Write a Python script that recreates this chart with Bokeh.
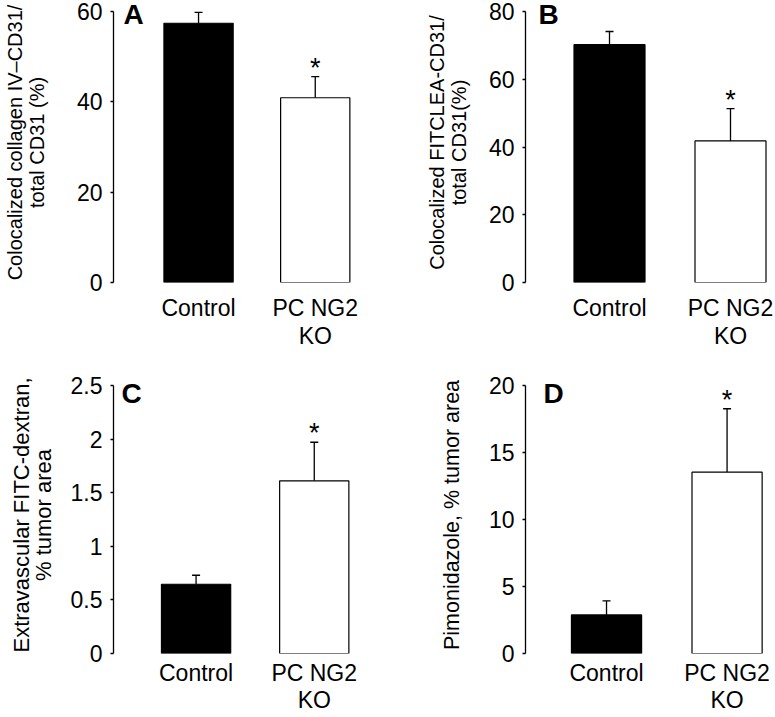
from bokeh.plotting import figure
from bokeh.models import Range1d, FixedTicker, Whisker, TeeHead, ColumnDataSource, Label, NumeralTickFormatter
from bokeh.layouts import gridplot
from bokeh.embed import file_html
from bokeh.resources import INLINE
from bokeh.core.properties import value

# ---------------- data ----------------
categories = ["Control", "PC NG2\nKO"]
bar_colors = ["black", "white"]
significant = [False, True]

a_means = [57.4, 40.9]
a_errs = [2.4, 4.7]
a_ticks = [0, 20, 40, 60]

b_means = [70.2, 41.8]
b_errs = [3.9, 9.5]
b_ticks = [0, 20, 40, 60, 80]

c_means = [0.646, 1.61]
c_errs = [0.084, 0.36]
c_ticks = [0, 0.5, 1, 1.5, 2, 2.5]

d_means = [2.88, 13.53]
d_errs = [1.05, 4.73]
d_ticks = [0, 5, 10, 15, 20]

FONT = "Liberation Sans"


def panel(letter, means, errs, ticks, ylabel, ylabel_size, ylabel_lh, ylabel_standoff,
          w, h, frame_left, frame_top, axis_top, frame_bottom, c1_px, spacing_px, bar_px,
          letter_dx, letter_cap_top, xlabel_standoff, xlabel_lh):
    frame_w = w - frame_left
    axis_h = frame_bottom - axis_top
    xs = 1 - (c1_px - frame_left) / spacing_px
    xe = xs + frame_w / spacing_px
    ymax = ticks[-1]
    per_px = ymax / axis_h
    yend = ymax + (axis_top - frame_top) * per_px
    positions = list(range(1, len(categories) + 1))

    p = figure(width=w, height=h, x_range=Range1d(xs, xe), y_range=Range1d(0, yend),
               output_backend="svg", toolbar_location=None,
               min_border_left=frame_left, min_border_right=0,
               min_border_top=frame_top, min_border_bottom=h - frame_bottom)
    p.outline_line_color = None
    p.grid.visible = False
    p.background_fill_color = "white"
    p.border_fill_color = "white"

    p.vbar(x=positions, top=means, width=bar_px / spacing_px, bottom=0,
           fill_color=bar_colors, line_color="black", line_width=1.2)

    uppers = [m + e for m, e in zip(means, errs)]
    src = ColumnDataSource(data=dict(x=positions, lower=means, upper=uppers))
    wh = Whisker(base="x", lower="lower", upper="upper", source=src, dimension="height",
                 line_color="black", line_width=1.3, lower_head=None,
                 upper_head=TeeHead(size=8, line_color="black", line_width=1.3))
    p.add_layout(wh)

    sx = [x for x, s in zip(positions, significant) if s]
    sy = [u for u, s in zip(uppers, significant) if s]
    p.text(x=sx, y=sy, text=["*"] * len(sx), text_align="center", text_baseline="alphabetic",
           y_offset=-9, text_font=value(FONT), text_font_size="27px", text_color="black")

    # x axis
    xa = p.xaxis[0]
    xa.ticker = FixedTicker(ticks=positions)
    xa.major_label_overrides = {pos: cat for pos, cat in zip(positions, categories)}
    xa.axis_line_color = None
    xa.major_tick_line_color = None
    xa.minor_tick_line_color = None
    xa.major_tick_out = 0
    xa.major_tick_in = 0
    xa.major_label_standoff = xlabel_standoff
    xa.major_label_text_font = FONT
    xa.major_label_text_font_size = "23px"
    xa.major_label_text_color = "black"
    xa.major_label_text_line_height = xlabel_lh

    # y axis
    ya = p.yaxis[0]
    ya.ticker = FixedTicker(ticks=ticks)
    ya.bounds = (0, ymax)
    ya.formatter = NumeralTickFormatter(format="0.[0]")
    ya.axis_line_width = 1.3
    ya.axis_line_color = "black"
    ya.major_tick_out = 3
    ya.major_tick_in = 0
    ya.major_tick_line_width = 1.3
    ya.minor_tick_line_color = None
    ya.major_label_standoff = 8
    ya.major_label_text_font = FONT
    ya.major_label_text_font_size = "23px"
    ya.major_label_text_color = "black"
    ya.axis_label = ylabel
    ya.axis_label_text_font = FONT
    ya.axis_label_text_font_style = "normal"
    ya.axis_label_text_font_size = ylabel_size
    ya.axis_label_text_color = "black"
    ya.axis_label_text_line_height = ylabel_lh
    ya.axis_label_standoff = ylabel_standoff

    # panel letter (empirical: rendered cap top sits ~11.5px below requested)
    cap = 0.716 * 28
    baseline_px = letter_cap_top - 11.5 + cap  # in figure px from top
    p.add_layout(Label(x=xs, y=yend - (baseline_px - frame_top) * per_px, x_offset=letter_dx,
                       text=letter, text_font=FONT, text_font_style="bold",
                       text_font_size="28px", text_color="black",
                       text_baseline="alphabetic", text_align="left"))
    return p


H1, H2 = 354, 361
pA = panel("A", a_means, a_errs, a_ticks, "Colocalized collagen IV\u2013CD31/\ntotal CD31 (%)",
           "20px", 1.0, 26, 381, H1, 110, 2, 11, 282, 196, 118, 70, 10, 5, 12, 1.1)
pB = panel("B", b_means, b_errs, b_ticks, "Colocalized FITCLEA-CD31/\ntotal CD31(%)",
           "20px", 1.0, 16, 393, H1, 144, 2, 11, 282, 228, 121, 71, 13, 5, 12, 1.1)
pC = panel("C", c_means, c_errs, c_ticks, "Extravascular FITC-dextran,\n% tumor area",
           "22px", 0.85, 12, 381, H2, 110, 22, 31, H2 - 60, 193.5, 119.5, 70, 8, 31, 6, 1.05)
pD = panel("D", d_means, d_errs, d_ticks, "Pimonidazole, % tumor area",
           "21.5px", 1.0, 22, 393, H2, 141, 22, 31, H2 - 60, 223, 122, 71, 18, 31, 6, 1.05)

grid = gridplot([[pA, pB], [pC, pD]], toolbar_location=None)

with open("out.html", "w") as f:
    f.write(file_html(grid, INLINE))
